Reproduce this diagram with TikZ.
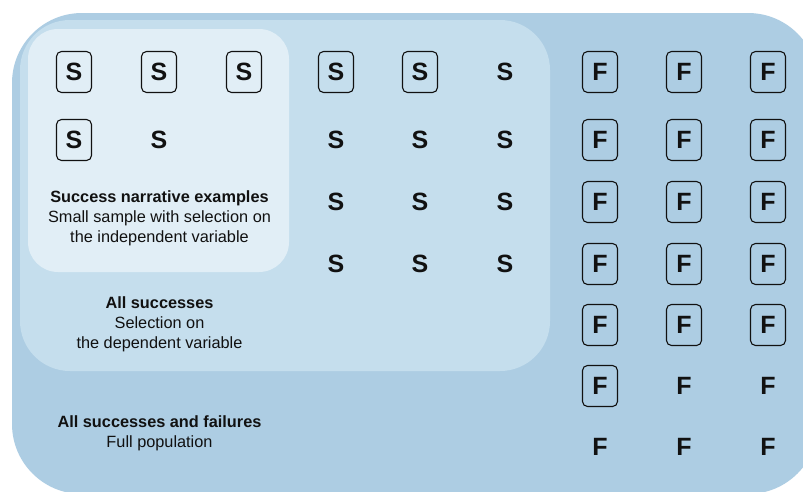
\documentclass[tikz,border=0pt]{standalone}
\usepackage{fontspec}
\setmainfont{Liberation Sans}
\definecolor{outerblue}{RGB}{173,205,227}
\definecolor{midblue}{RGB}{197,222,237}
\definecolor{innerblue}{RGB}{225,238,246}
\definecolor{ink}{RGB}{17,17,17}
\tikzset{
  letter/.style={font=\fontsize{25}{25}\selectfont\bfseries, inner sep=0pt, text=ink},
  boxed/.style={letter, draw=ink, line width=1.1pt, rounded corners=5pt, minimum width=35pt, minimum height=41pt},
  plain/.style={letter},
  lbl/.style={align=center, font=\fontsize{16.3}{19.8}\selectfont, text=ink, inner sep=0pt},
}
\begin{document}
\begin{tikzpicture}[x=1pt,y=-1pt]
\useasboundingbox (0,0) rectangle (803,491);
\clip (0,0) rectangle (803,491);
\fill[white] (0,0) rectangle (803,491);
\fill[outerblue, rounded corners=70pt] (12,13) rectangle (818,494);
\fill[midblue, rounded corners=50pt] (20,20) rectangle (550,371);
\fill[innerblue, rounded corners=30pt] (28,29) rectangle (289,272);
% successes
\foreach \n/\x/\y/\s in {
  s11/74/72/boxed, s12/159/72/boxed, s13/244/72/boxed,
  s14/336/72/boxed, s15/420/72/boxed, s16/505/72/plain,
  s21/74/140/boxed, s22/159/140/plain,
  s24/336/140/plain, s25/420/140/plain, s26/505/140/plain,
  s34/336/202/plain, s35/420/202/plain, s36/505/202/plain,
  s44/336/264/plain, s45/420/264/plain, s46/505/264/plain}
  \node[\s] (\n) at (\x,\y) {S};
% failures
\foreach \n/\x/\y/\s in {
  f11/600/72/boxed, f12/684/72/boxed, f13/768/72/boxed,
  f21/600/140/boxed, f22/684/140/boxed, f23/768/140/boxed,
  f31/600/202/boxed, f32/684/202/boxed, f33/768/202/boxed,
  f41/600/264/boxed, f42/684/264/boxed, f43/768/264/boxed,
  f51/600/325/boxed, f52/684/325/boxed, f53/768/325/boxed,
  f61/600/386/boxed, f62/684/386/plain, f63/768/386/plain,
  f71/600/447/plain, f72/684/447/plain, f73/768/447/plain}
  \node[\s] (\n) at (\x,\y) {F};
% labels
\node[lbl] (narr) at (159.5,218) {\textbf{Success narrative examples}\\Small sample with selection on\\the independent variable};
\node[lbl] (alls) at (159.5,324) {\textbf{All successes}\\Selection on\\the dependent variable};
\node[lbl] (allsf) at (159.5,433) {\textbf{All successes and failures}\\Full population};
\end{tikzpicture}
\end{document}
